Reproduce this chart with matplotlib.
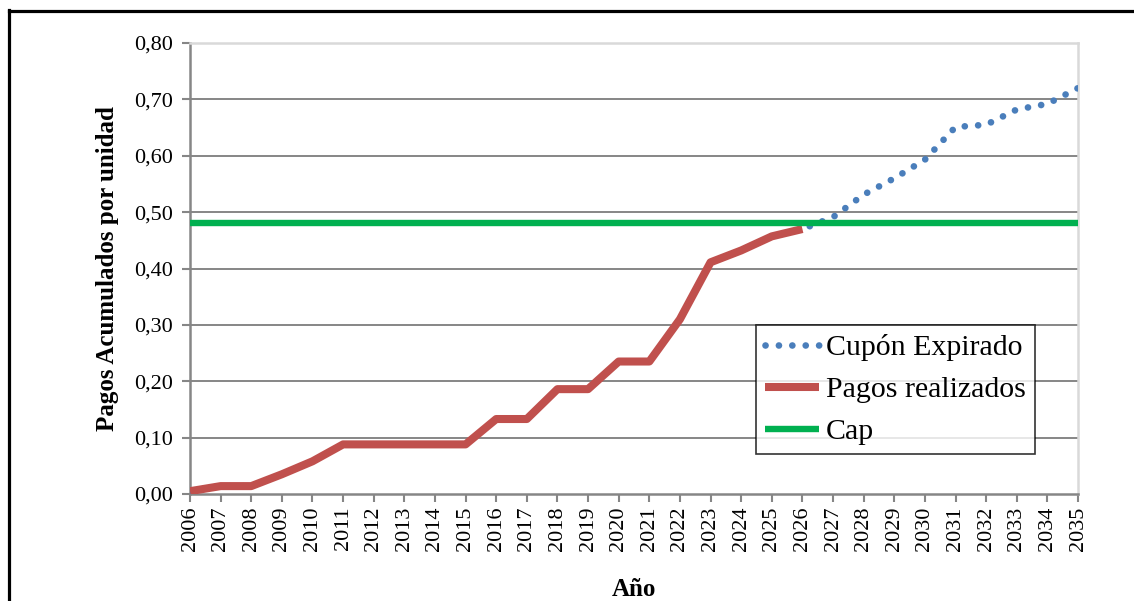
import matplotlib
matplotlib.use('Agg')
import matplotlib.pyplot as plt
from matplotlib.lines import Line2D
from matplotlib.ticker import FuncFormatter
import numpy as np

years = [str(y) for y in range(2006, 2036)]

# Pagos realizados (2006-2026)
pagos = [0.005, 0.014, 0.014, 0.035, 0.058, 0.088, 0.088, 0.088, 0.088, 0.088,
         0.133, 0.133, 0.186, 0.186, 0.235, 0.235, 0.310, 0.411, 0.432, 0.457,
         0.470]

# Cupon expirado: same path, then continues to 2035
cupon_extra = [0.491, 0.531, 0.560, 0.593, 0.651, 0.655, 0.682, 0.692, 0.720]
cupon = pagos + cupon_extra

cap = [0.48] * len(years)

plt.rcParams['font.family'] = ['Liberation Serif', 'DejaVu Serif']

fig = plt.figure(figsize=(11.34, 6.01), dpi=100)
ax = fig.add_axes([190 / 1134, 107 / 601, 888 / 1134, 451 / 601])

x_all = np.arange(len(years))

ax.plot(x_all, cupon, color='#4A7EBB', lw=4.8, linestyle=(0, (0.01, 2.0)),
        dash_capstyle='round', label='Cupón Expirado', zorder=3)
ax.plot(x_all[:len(pagos)], pagos, color='#C0504D', lw=5.8,
        solid_capstyle='butt', label='Pagos realizados', zorder=4)
ax.plot(x_all, cap, color='#00B050', lw=4.6, solid_capstyle='butt',
        label='Cap', zorder=5)

ax.set_xlim(0, len(years) - 1)
ax.set_ylim(0, 0.8)
ax.set_xticks(x_all)
ax.set_xticklabels(years, rotation=90, fontsize=16)
ax.set_yticks(np.arange(0, 0.81, 0.1))
ax.yaxis.set_major_formatter(FuncFormatter(lambda v, p: f'{v:.2f}'.replace('.', ',')))
ax.tick_params(axis='y', labelsize=16, length=6, color='#868686', width=1.5, pad=6)
ax.tick_params(axis='x', length=6, color='#868686', width=1.5, pad=3)

for v in np.arange(0.1, 0.75, 0.1):
    ax.axhline(v, color='#868686', lw=1.4, zorder=1)

for s in ['left', 'bottom']:
    ax.spines[s].set_color('#868686')
    ax.spines[s].set_linewidth(1.8)
for s in ['top', 'right']:
    ax.spines[s].set_color('#D9D9D9')
    ax.spines[s].set_linewidth(1.8)

ax.set_xlabel('Año', fontsize=18, fontweight='bold')
ax.set_ylabel('Pagos Acumulados por unidad', fontsize=18, fontweight='bold')
ax.xaxis.set_label_coords(0.5, -0.186)
ax.yaxis.set_label_coords(-0.08, 0.5)

leg = ax.legend(loc='lower right', bbox_to_anchor=(0.9516, 0.0887),
                fontsize=21.5, frameon=True, fancybox=False, borderaxespad=0,
                handlelength=1.8, handletextpad=0.25, borderpad=0.3,
                labelspacing=0.5)
leg.get_frame().set_edgecolor('black')
leg.get_frame().set_linewidth(1.2)
leg.set_zorder(10)

# outer frame of the figure
fig.add_artist(Line2D([9 / 1134, 9 / 1134], [0, 1 - 10 / 601], color='black',
                      lw=2.3, transform=fig.transFigure))
fig.add_artist(Line2D([9 / 1134, 1], [1 - 10.5 / 601, 1 - 10.5 / 601], color='black',
                      lw=2.3, transform=fig.transFigure))

fig.savefig('out.png', dpi=100)
